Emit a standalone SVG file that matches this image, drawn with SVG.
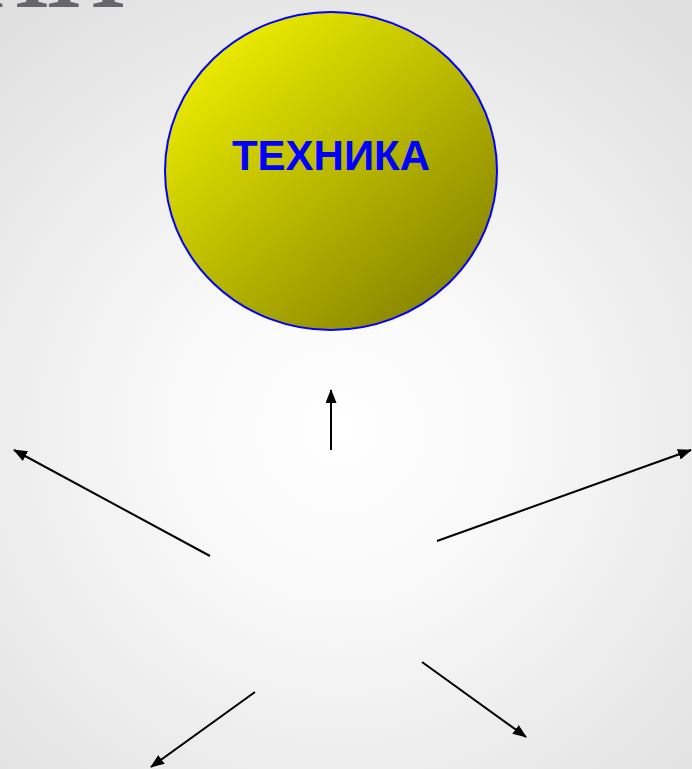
<svg xmlns="http://www.w3.org/2000/svg" width="692" height="769" viewBox="0 0 692 769">
<defs>
<radialGradient id="bg" cx="340" cy="430" r="520" gradientUnits="userSpaceOnUse">
<stop offset="0" stop-color="#ffffff"/>
<stop offset="0.35" stop-color="#f8f8f8"/>
<stop offset="1" stop-color="#e0e0e0"/>
</radialGradient>
<linearGradient id="ball" x1="0.1" y1="0.05" x2="0.9" y2="0.95">
<stop offset="0" stop-color="#f2f200"/>
<stop offset="1" stop-color="#828000"/>
</linearGradient>
<marker id="ah" markerUnits="userSpaceOnUse" markerWidth="14" markerHeight="12" refX="13" refY="5.5" orient="auto">
<path d="M0,0 L14,5.5 L0,11 Z" fill="#000"/>
</marker>
<style>
.conn{stroke:#000;stroke-width:2;fill:none;marker-end:url(#ah)}
.title{font-family:"Liberation Serif",serif;font-size:150px;fill:#67656d}
.lbl{font-family:"Liberation Sans",Arial,sans-serif;font-weight:bold;font-size:42px;fill:#0000ff}
</style>
</defs>
<rect width="692" height="769" fill="url(#bg)"/>
<text class="title" x="-30" y="7" letter-spacing="-4">пп</text>
<g id="node-technika">
<ellipse cx="331" cy="171" rx="166" ry="159" fill="url(#ball)" stroke="#0000ff" stroke-width="2"/>
<text class="lbl" x="331" y="170" text-anchor="middle">ТЕХНИКА</text>
</g>
<g id="connectors">
<line class="conn" x1="331" y1="450" x2="331" y2="390"/>
<line class="conn" x1="210" y1="556" x2="14" y2="450"/>
<line class="conn" x1="437" y1="541" x2="691" y2="450"/>
<line class="conn" x1="255" y1="692" x2="151" y2="767"/>
<line class="conn" x1="422" y1="662" x2="526" y2="737"/>
</g>
</svg>
